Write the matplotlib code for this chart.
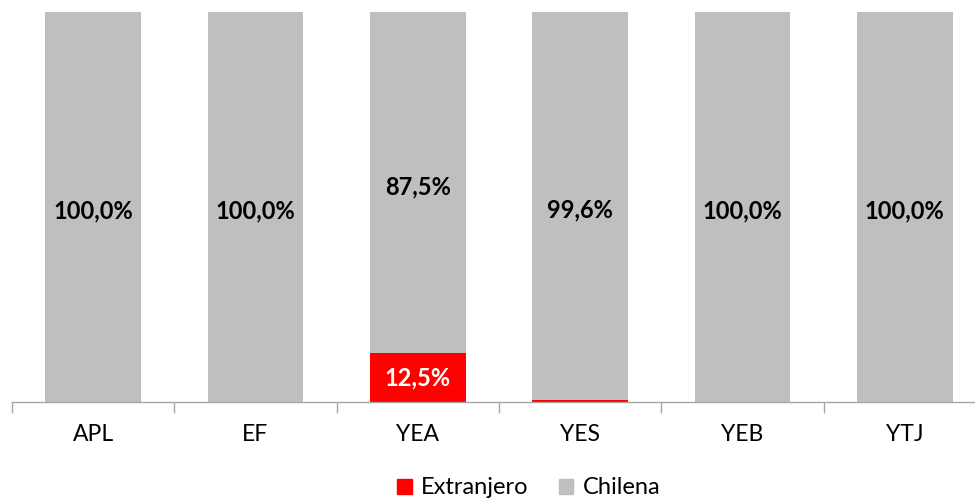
import matplotlib
matplotlib.use("Agg")
import matplotlib.pyplot as plt
import numpy as np
from matplotlib.patches import Patch

plt.rcParams['font.family'] = ['Lato', 'DejaVu Sans']

categories = ["APL", "EF", "YEA", "YES", "YEB", "YTJ"]
extranjero = [0.0, 0.0, 12.5, 0.4, 0.0, 0.0]
chilena = [100.0, 100.0, 87.5, 99.6, 100.0, 100.0]

red = "#FF0000"
gray = "#BFBFBF"

fig = plt.figure(figsize=(9.75, 4.99), dpi=100)
ax = fig.add_axes([12 / 975, 1 - 402 / 499, 974 / 975, (402 - 12) / 499])

x = np.arange(len(categories))
w = 0.59
ax.bar(x, extranjero, w, color=red, label="Extranjero", zorder=2)
ax.bar(x, chilena, w, bottom=extranjero, color=gray, label="Chilena", zorder=2)

for xi, e, c in zip(x, extranjero, chilena):
    if e >= 1:
        ax.text(xi, e / 2, f"{e:.1f}%".replace(".", ","), ha="center", va="center",
                color="white", fontsize=17, fontweight="bold")
    ax.text(xi, e + c / 2 - 1, f"{c:.1f}%".replace(".", ","), ha="center", va="center",
            color="black", fontsize=17, fontweight="bold")

ax.set_xlim(-0.5, len(categories) - 0.5)
ax.set_ylim(0, 100)
for s in ["top", "right", "left"]:
    ax.spines[s].set_visible(False)
ax.spines["bottom"].set_color("#A6A6A6")
ax.spines["bottom"].set_linewidth(1.0)
ax.set_yticks([])
ax.set_xticks(np.arange(len(categories) + 1) - 0.5, minor=True)
ax.set_xticks(x)
ax.set_xticklabels(categories, fontsize=16.5)
ax.tick_params(axis="x", which="major", length=0, pad=16)
ax.tick_params(axis="x", which="minor", length=8, color="#A6A6A6", width=1.0)

handles = [Patch(color=red, label="Extranjero"), Patch(color=gray, label="Chilena")]
fig.legend(handles=handles, loc="center", bbox_to_anchor=(529 / 975, 1 - 488 / 499),
           ncol=2, frameon=False, fontsize=17, handlelength=0.6, handleheight=0.6,
           handletextpad=0.4, columnspacing=1.3)

fig.savefig("out.png", dpi=100)
